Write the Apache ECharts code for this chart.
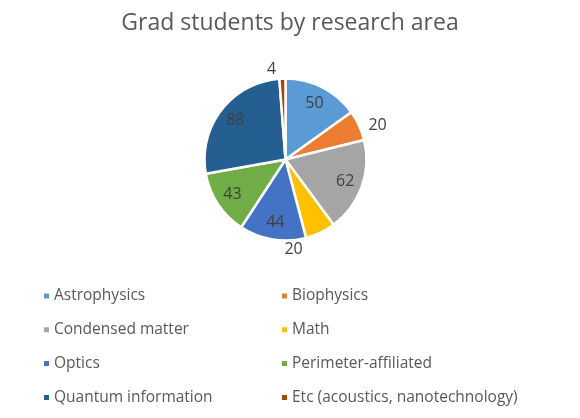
<!DOCTYPE html>
<html>
<head>
<meta charset="utf-8">
<script src="https://cdn.jsdelivr.net/npm/echarts@6/dist/echarts.min.js"></script>
<style>html,body{margin:0;padding:0;background:#fff}#c{width:580px;height:418px}</style>
</head>
<body>
<div id="c"></div>
<script>
var categories = ['Astrophysics','Biophysics','Condensed matter','Math','Optics','Perimeter-affiliated','Quantum information','Etc (acoustics, nanotechnology)'];
var values = [50, 20, 62, 20, 44, 43, 88, 4];
var colors = ['#5B9BD5','#ED7D31','#A5A5A5','#FFC000','#4472C4','#70AD47','#255E91','#9E480E'];
var outsideLabels = [false, true, false, true, false, false, false, true];
var leftLegend = ['Astrophysics','Condensed matter','Optics','Quantum information'];
var rightLegend = ['Biophysics','Math','Perimeter-affiliated','Etc (acoustics, nanotechnology)'];

var FONT = '"Open Sans", sans-serif';
var center = [285.5, 159.5];
var R = 81;

var mainData = categories.map(function(n, i){
  return {name: n, value: values[i], itemStyle: {color: colors[i]},
    label: {show: outsideLabels[i]}};
});
var overlayData = categories.map(function(n, i){
  return {name: n, value: values[i], label: {show: !outsideLabels[i]}};
});

var legendText = {fontFamily: FONT, fontSize: 15.5, color: '#595959', padding: [0,0,0,-1]};

var chart = echarts.init(document.getElementById('c'));
chart.setOption({
  backgroundColor: '#fff',
  animation: false,
  title: {
    text: 'Grad students by research area',
    left: 'center', top: 7,
    textStyle: {fontFamily: FONT, fontSize: 23, fontWeight: 'normal', color: '#595959'}
  },
  legend: [
    {data: leftLegend, orient: 'vertical', left: 37, top: 283, itemGap: 17.8,
     itemWidth: 7, itemHeight: 7, icon: 'rect', textStyle: legendText},
    {data: rightLegend, orient: 'vertical', left: 275, top: 283, itemGap: 17.8,
     itemWidth: 7, itemHeight: 7, icon: 'rect', textStyle: legendText}
  ],
  series: [
    {
      type: 'pie', center: center, radius: [0, R], startAngle: 90, clockwise: true,
      avoidLabelOverlap: false,
      itemStyle: {borderColor: '#fff', borderWidth: 2.5},
      label: {position: 'outside', fontFamily: FONT, fontSize: 16, color: '#404040', formatter: '{c}'},
      labelLine: {show: false, length: 7, length2: 0},
      labelLayout: function(p){
        if (p.dataIndex === 3) return {dx: -44, dy: 11};
        if (p.dataIndex === 1) return {dx: -2, dy: 3};
        if (p.dataIndex === 7) return {dx: -1, dy: -2};
        return {};
      },
      data: mainData
    },
    {
      type: 'pie', center: center, radius: [40, R], startAngle: 90, clockwise: true,
      silent: true, avoidLabelOverlap: false,
      itemStyle: {color: 'rgba(0,0,0,0)', borderWidth: 0},
      label: {position: 'inside', fontFamily: FONT, fontSize: 16, color: '#404040', formatter: '{c}'},
      labelLine: {show: false},
      emphasis: {disabled: true},
      data: overlayData
    }
  ]
});
</script>
</body>
</html>
